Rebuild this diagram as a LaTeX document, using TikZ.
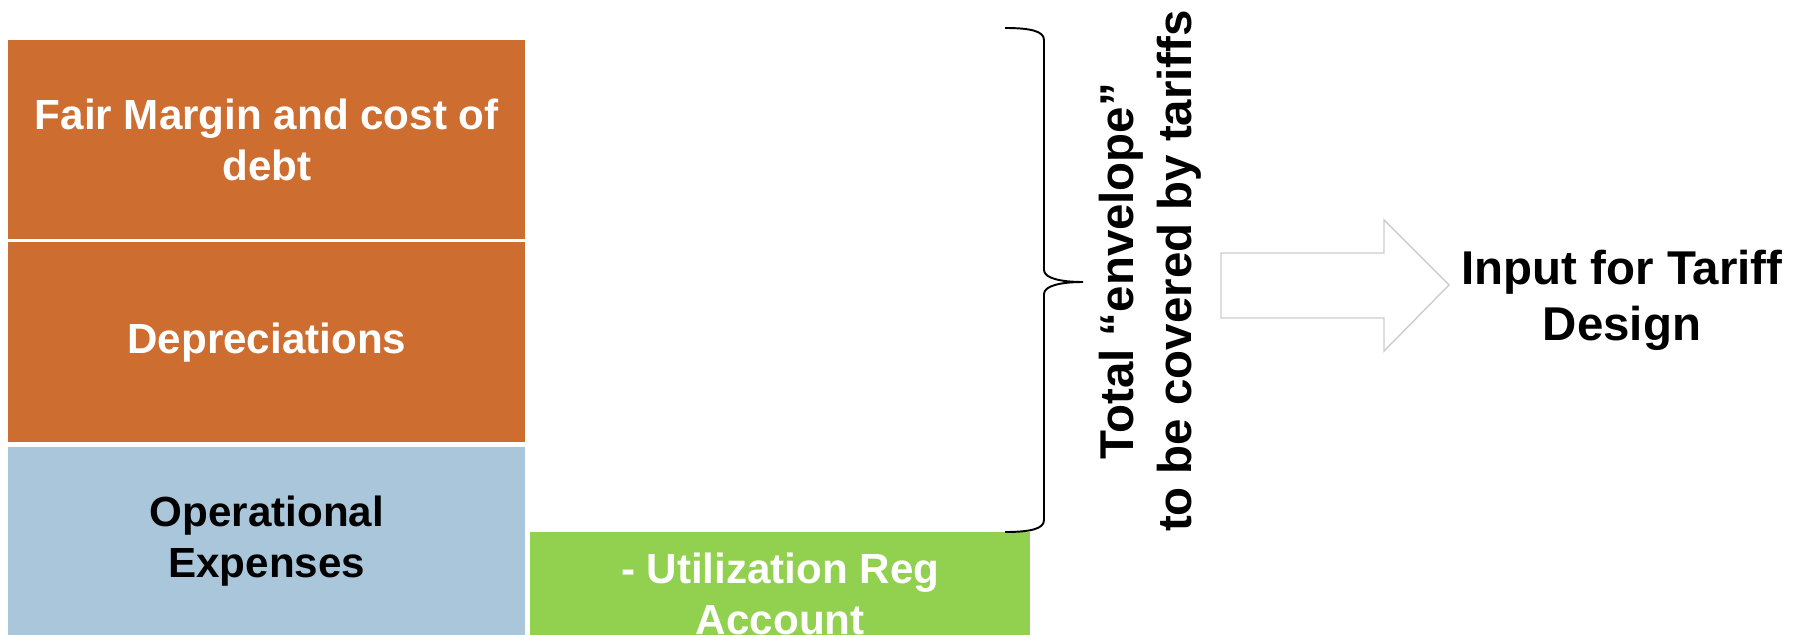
\documentclass[tikz,border=0pt]{standalone}
\usepackage{fontspec}
\setmainfont{Liberation Sans}
\definecolor{costorange}{RGB}{205,109,48}
\definecolor{opexblue}{RGB}{169,198,218}
\definecolor{regreen}{RGB}{146,208,80}
\tikzset{
    block/.style={anchor=north west,inner sep=0pt,align=center,
        minimum width=10.34cm,font=\fontsize{24}{29}\selectfont\bfseries},
    bigtext/.style={align=center,font=\fontsize{27}{33}\selectfont\bfseries}
}
\begin{document}
\begin{tikzpicture}[x=0.02cm,y=-0.02cm]
            \useasboundingbox (0,0) rectangle (1794,635);
            % stacked cost blocks
            \node[block,fill=costorange,text=white,minimum height=3.98cm]
                (fair) at (8,40) {Fair Margin and cost of\\debt};
            \node[block,fill=costorange,text=white,minimum height=4cm]
                (depr) at (8,242) {Depreciations};
            \node[block,fill=opexblue,minimum height=3.76cm]
                (opex) at (8,447) {Operational\\Expenses};
            \node[block,fill=regreen,minimum width=10cm,
                minimum height=2.06cm] (util) at (530,532) {};
            \node[block,anchor=center,text=white] (utiltxt)
                at ([yshift=-6pt]util.center) {- Utilization Reg\\Account};
            % brace
            \draw[line width=1.1pt] (1005,28) .. controls (1030,28) and (1044,31) .. (1044,40)
                -- (1044,270) .. controls (1044,278) and (1060,282) .. (1083,282)
                .. controls (1060,282) and (1044,286) .. (1044,294)
                -- (1044,520) .. controls (1044,529) and (1030,532) .. (1005,532);
            \node[bigtext,rotate=90] (env) at (1150,271)
                {Total “envelope”\\to be covered by tariffs};
            % arrow
            \draw[black!20,line width=0.8pt] (1221,253) -- (1384,253) -- (1384,220)
                -- (1449,285) -- (1384,351) -- (1384,318) -- (1221,318) -- cycle;
            \node[bigtext,font=\fontsize{27}{32}\selectfont\bfseries]
                (input) at (1622,300) {Input for Tariff\\Design};
\end{tikzpicture}
\end{document}
